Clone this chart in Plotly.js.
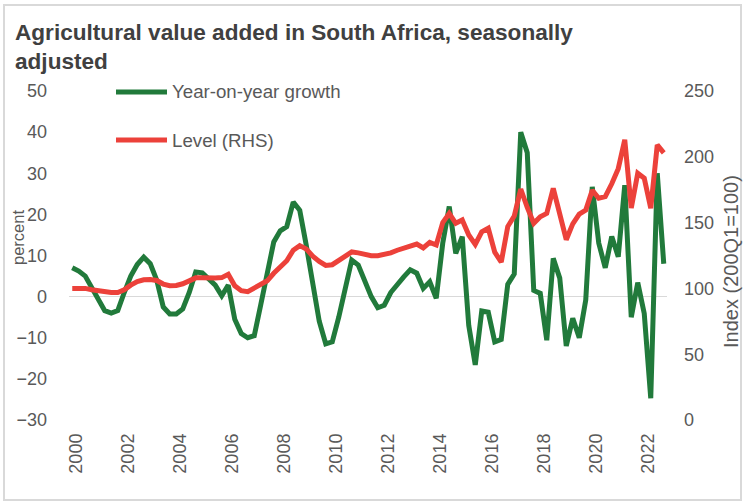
<!DOCTYPE html>
<html>
<head>
<meta charset="utf-8">
<script src="https://cdn.plot.ly/plotly-3.0.1.min.js"></script>
<style>
html,body{margin:0;padding:0;background:#fff;}
#chart{width:744px;height:503px;}
</style>
</head>
<body>
<div id="chart"></div>
<script>
// Quarterly data, 2000Q1 .. 2022Q4
const startYear = 2000;
const growth = [
  7.0, 6.2, 5.0, 2.3, -0.2, -3.4, -4.0, -3.4,
  1.0, 5.0, 7.8, 9.6, 8.0, 4.0, -2.5, -4.2,
  -4.2, -3.0, 1.0, 6.0, 5.8, 4.3, 2.8, 0.2,
  2.8, -5.5, -9.0, -10.0, -9.5, -2.0, 6.0, 13.3,
  16.0, 17.0, 23.0, 21.0, 12.5, 2.5, -6.0, -11.5,
  -11.0, -5.0, 2.5, 8.9, 7.7, 3.8, 0.0, -2.7,
  -2.1, 1.0, 3.0, 4.8, 6.5, 5.7, 2.0, 3.6,
  -0.4, 13.0, 21.9, 10.5, 14.6, -7.0, -16.6, -3.5,
  -3.8, -11.0, -10.4, 3.0, 5.5, 40.0, 35.0, 1.5,
  0.8, -10.6, 9.3, 4.5, -12.0, -5.3, -10.0, -0.8,
  26.7, 13.0, 7.0, 14.6, 9.7, 27.1, -5.0, 3.4,
  -4.1, -24.7, 30.0, 8.0
];
const level = [
  100.0, 100.3, 100.0, 99.0, 98.0, 97.2, 96.9, 96.8,
  99.0, 102.5, 105.2, 106.5, 106.8, 106.0, 103.3, 102.0,
  102.2, 103.5, 105.3, 108.0, 108.0, 107.7, 107.9, 108.2,
  110.7, 102.0, 98.3, 97.5, 100.0, 103.0, 105.8, 111.5,
  116.0, 121.0, 129.0, 132.5, 130.0, 124.5, 120.5, 117.5,
  118.0, 121.5, 125.0, 127.7, 127.0, 125.8, 124.9, 124.9,
  125.5, 127.0, 129.0, 130.6, 133.0, 133.7, 130.7, 135.0,
  133.0, 150.0, 157.0, 149.5, 152.0, 140.6, 133.5, 143.0,
  145.7, 127.5, 120.0, 147.0, 155.0, 175.5, 161.5, 149.5,
  154.5, 157.0, 176.0, 158.0, 137.0, 149.0, 156.5, 159.5,
  174.5, 168.5, 169.7, 179.5, 191.0, 213.0, 161.0, 187.5,
  183.7, 161.0, 209.0, 203.0
];
const tickYears = [2000, 2002, 2004, 2006, 2008, 2010, 2012, 2014, 2016, 2018, 2020, 2022];
const tickLabels = ['2000','2002','2004','2006','2008','2010','2012','2014','2016','2018','2020','2022'];
const leftTicks = [-30, -20, -10, 0, 10, 20, 30, 40, 50];
const rightTicks = [0, 50, 100, 150, 200, 250];
const seriesNames = ['Year-on-year growth', 'Level (RHS)'];
const titleText = 'Agricultural value added in South Africa, seasonally<br>adjusted';
const leftTitle = 'percent';
const rightTitle = 'Index (200Q1=100)';

const xq = growth.map((_, i) => startYear + i / 4);

const GREEN = '#217A3B';
const RED = '#EC413A';
const TXT = '#595959';
const FONT = 'Liberation Sans, Arial, sans-serif';

// plot area in px
const L = 69, R = 667, T = 91, B = 420, W = 744, H = 503;
const px2x = p => (p - L) / (R - L);
const px2y = p => (B - p) / (B - T);

const traces = [
  {x: xq, y: level, type: 'scatter', mode: 'lines', name: seriesNames[1],
   line: {color: RED, width: 5}, yaxis: 'y2', showlegend: false},
  {x: xq, y: growth, type: 'scatter', mode: 'lines', name: seriesNames[0],
   line: {color: GREEN, width: 5}, yaxis: 'y', showlegend: false}
];

const layout = {
  width: W, height: H,
  margin: {l: L, r: W - R, t: T, b: H - B, pad: 0},
  paper_bgcolor: '#fff', plot_bgcolor: '#fff',
  font: {family: FONT, color: TXT, size: 18},
  title: {
    text: titleText, x: 15 / W, xanchor: 'left', xref: 'container',
    y: 1 - 40 / H, yanchor: 'top', yref: 'container',
    font: {family: FONT, size: 22.6, color: '#404040', weight: 'bold'}
  },
  xaxis: {
    range: [startYear - 0.125, startYear + (growth.length - 1) / 4 + 0.125],
    tickvals: tickYears.map(y => y + 0.14), ticktext: tickLabels,
    tickangle: -90, showgrid: false, zeroline: false, showline: false,
    ticks: '', ticklabelstandoff: 9, tickfont: {size: 18, color: TXT}
  },
  yaxis: {
    range: [-30, 50], tickvals: leftTicks, showgrid: false,
    zeroline: true, zerolinecolor: '#D9D9D9', zerolinewidth: 1.5,
    showline: false, ticks: '', ticklabelstandoff: 21,
    tickfont: {size: 18, color: TXT}
  },
  yaxis2: {
    range: [0, 250], tickvals: rightTicks, overlaying: 'y', side: 'right',
    showgrid: false, zeroline: false, showline: false, ticks: '',
    ticklabelstandoff: 16, tickfont: {size: 18, color: TXT}
  },
  shapes: [
    {type: 'rect', xref: 'paper', yref: 'paper',
     x0: px2x(4), x1: px2x(741), y0: px2y(500), y1: px2y(5),
     line: {color: '#D9D9D9', width: 2}, layer: 'below'},
    {type: 'line', xref: 'paper', yref: 'paper',
     x0: px2x(116), x1: px2x(167), y0: px2y(92), y1: px2y(92),
     line: {color: GREEN, width: 5}},
    {type: 'line', xref: 'paper', yref: 'paper',
     x0: px2x(116), x1: px2x(167), y0: px2y(140), y1: px2y(140),
     line: {color: RED, width: 5}}
  ],
  annotations: [
    {text: seriesNames[0], xref: 'paper', yref: 'paper', x: px2x(170), y: px2y(92),
     xanchor: 'left', yanchor: 'middle', showarrow: false, font: {size: 18.7, color: TXT}},
    {text: seriesNames[1], xref: 'paper', yref: 'paper', x: px2x(170), y: px2y(140),
     xanchor: 'left', yanchor: 'middle', showarrow: false, font: {size: 18.7, color: TXT}},
    {text: leftTitle, xref: 'paper', yref: 'paper', x: px2x(18), y: px2y(238),
     xanchor: 'center', yanchor: 'middle', textangle: -90, showarrow: false, font: {size: 16.5, color: TXT}},
    {text: rightTitle, xref: 'paper', yref: 'paper', x: px2x(731), y: px2y(262),
     xanchor: 'center', yanchor: 'middle', textangle: -90, showarrow: false, font: {size: 20, color: TXT}}
  ]
};

Plotly.newPlot('chart', traces, layout, {displayModeBar: false, staticPlot: true});
</script>
</body>
</html>
